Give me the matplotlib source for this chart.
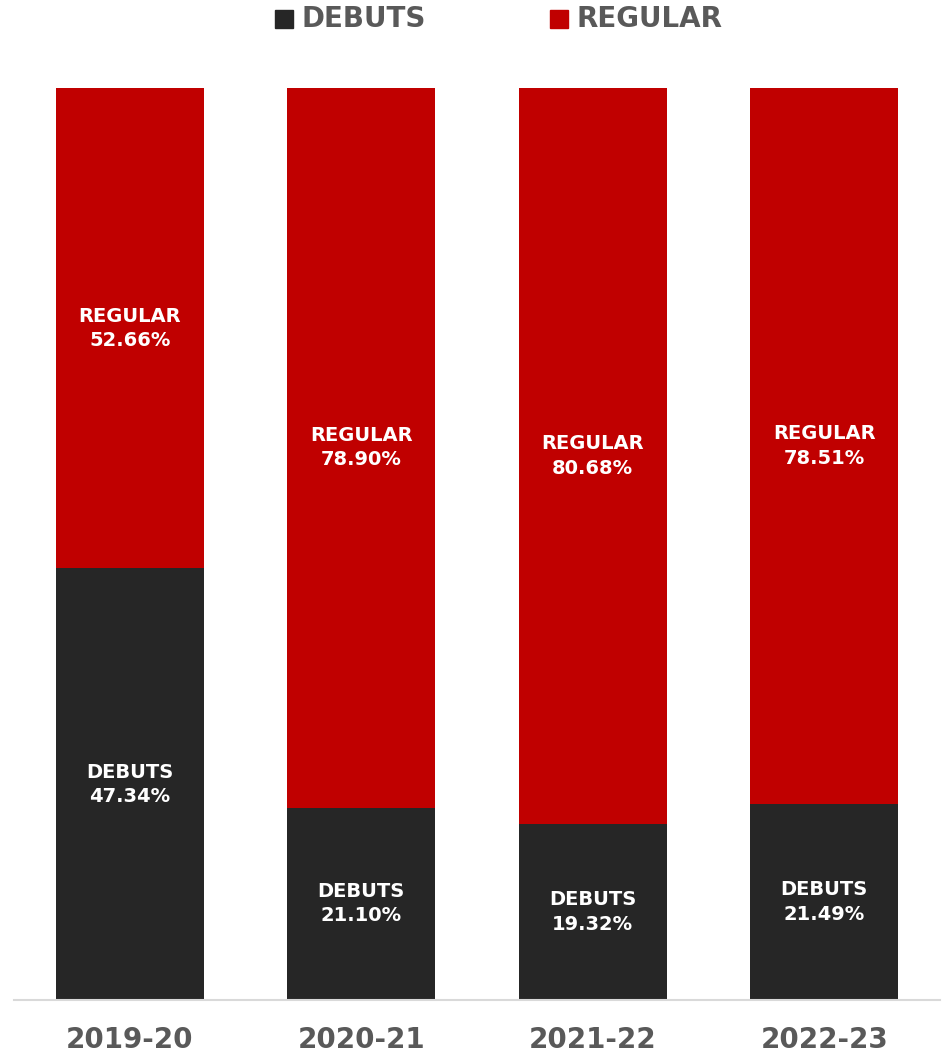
import matplotlib.pyplot as plt
from matplotlib.patches import Rectangle

seasons = ["2019-20", "2020-21", "2021-22", "2022-23"]
debuts = [47.34, 21.10, 19.32, 21.49]
regular = [52.66, 78.90, 80.68, 78.51]

DARK = "#262626"
RED = "#C00000"
GREY = "#595959"

plt.rcParams['font.family'] = ['DejaVu Sans']

fig = plt.figure(figsize=(9.46, 10.58), dpi=100)
ax = fig.add_axes([14 / 946, 58 / 1058, 926 / 946, 912 / 1058])

x = range(len(seasons))
ax.bar(x, debuts, width=0.64, color=DARK)
ax.bar(x, regular, width=0.64, bottom=debuts, color=RED)

for i in x:
    ax.text(i, debuts[i] / 2, f"DEBUTS\n{debuts[i]:.2f}%", ha='center', va='center',
            color='white', fontsize=14, fontweight='bold', linespacing=1.35)
    ax.text(i, debuts[i] + regular[i] / 2, f"REGULAR\n{regular[i]:.2f}%", ha='center', va='center',
            color='white', fontsize=14, fontweight='bold', linespacing=1.35)

ax.set_xlim(-0.5, 3.5)
ax.set_ylim(0, 100)
ax.set_yticks([])
ax.set_xticks(list(x))
ax.set_xticklabels(seasons, fontsize=20, fontweight='bold', color=GREY)
ax.tick_params(axis='x', length=0, pad=19)
for s in ['top', 'right', 'left']:
    ax.spines[s].set_visible(False)
ax.spines['bottom'].set_color('#D9D9D9')
ax.spines['bottom'].set_linewidth(1.5)

# legend at top
for px, col, lab in [(275, DARK, "DEBUTS"), (550, RED, "REGULAR")]:
    fig.patches.append(Rectangle((px / 946, 1 - 28 / 1058), 18 / 946, 18 / 1058,
                                 transform=fig.transFigure, color=col))
    fig.text((px + 26) / 946, 1 - 19 / 1058, lab, ha='left', va='center',
             fontsize=20, fontweight='bold', color=GREY)

fig.savefig("out.png", dpi=100)
